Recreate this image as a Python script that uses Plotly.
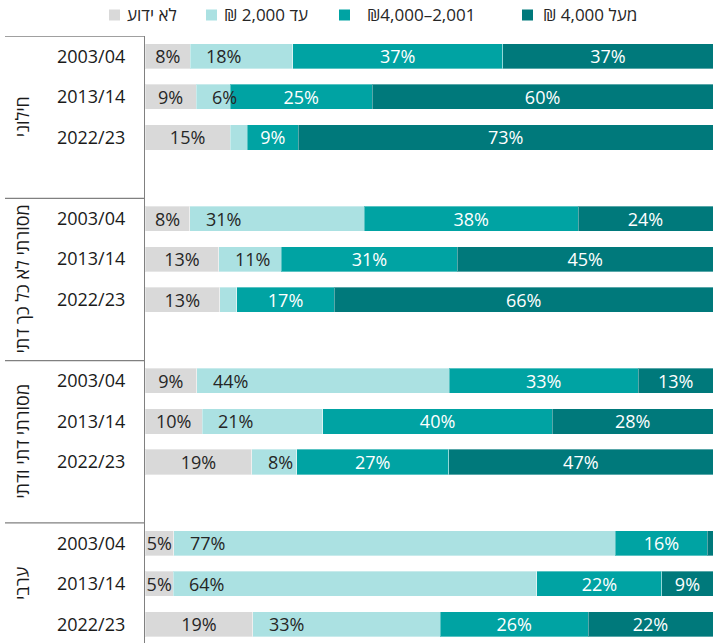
import plotly.graph_objects as go

# ---- data ----
groups = ["חילוני", "מסורתי לא כל כך דתי", "מסורתי דתי ודתי", "ערבי"]
years = ["2003/04", "2013/14", "2022/23"]
series_names = ["לא ידוע", "עד 2,000 ₪", "₪4,000–2,001", "מעל 4,000 ₪"]

unknown = [8, 9, 15, 8, 13, 13, 9, 10, 19, 5, 5, 19]
upto_2000 = [18, 6, 3, 31, 11, 3, 44, 21, 8, 77, 64, 33]
mid_2001_4000 = [37, 25, 9, 38, 31, 17, 33, 40, 27, 16, 22, 26]
over_4000 = [37, 60, 73, 24, 45, 66, 13, 28, 47, 1, 9, 22]

# ---- styles ----
colors = ["#d9d9d9", "#abe1e2", "#00a3a3", "#00797b"]
text_colors = ["#262626", "#262626", "#ffffff", "#ffffff"]
FONT = "Open Sans, Noto Sans, DejaVu Sans, sans-serif"

slots_per_group = len(years) + 1
ypos = [g * slots_per_group + i for g in range(len(groups)) for i in range(len(years))]
ymax = 14.46
ymin = -0.5

all_series = [unknown, upto_2000, mid_2001_4000, over_4000]
totals = [sum(s[j] for s in all_series) for j in range(len(ypos))]

fig = go.Figure()
for k, (name, vals) in enumerate(zip(series_names, all_series)):
    # the light series' labels are drawn as annotations (left-anchored, on top)
    texts = [f"{v}%" if (v >= 4 and k != 1) else "" for v in vals]
    fig.add_trace(go.Bar(
        y=ypos, x=vals, orientation="h", name=name,
        marker=dict(color=colors[k], line=dict(color="rgba(255,255,255,0.35)", width=1)),
        width=0.62,
        text=texts, textposition="inside", insidetextanchor="middle",
        textangle=0, constraintext="none",
        insidetextfont=dict(family=FONT, size=18, color=text_colors[k]),
        showlegend=False, hoverinfo="skip",
    ))

plot_left = 145
plot_w = 713 - plot_left
plot_top = 36
plot_h = 643 - plot_top
shapes = []
annotations = []

# labels of the "up to 2,000" series: start of the segment + fixed offset
for j, v in enumerate(upto_2000):
    if v < 4:
        continue
    seg_start = unknown[j] / totals[j] * 100
    annotations.append(dict(xref="x", yref="y", x=seg_start, y=ypos[j], xshift=14,
                            text=f"{v}%", showarrow=False, xanchor="left", yanchor="middle",
                            font=dict(family=FONT, size=18, color=text_colors[1])))

# group separators and labels
for g, gname in enumerate(groups):
    start = g * slots_per_group - 0.5
    end = start + slots_per_group
    shapes.append(dict(type="line", xref="paper", yref="y",
                       x0=-(plot_left - 5) / plot_w, x1=0, y0=start, y1=start,
                       line=dict(color="#808080", width=1.3)))
    yc = (start + min(end, ymax)) / 2
    annotations.append(dict(xref="paper", yref="y", x=0, y=yc, xshift=-123,
                            text=gname, textangle=-90, showarrow=False,
                            xanchor="center", yanchor="middle",
                            font=dict(family=FONT, size=18, color="#1a1a1a")))

# manual legend (squares + labels) in the top margin
legend_sq_x = [109, 206, 339, 522]
legend_tx_x = [125, 222, 365, 541]
ly = 1 + (plot_top - 15) / plot_h
for k, name in enumerate(series_names):
    x0 = (legend_sq_x[k] - plot_left) / plot_w
    x1 = (legend_sq_x[k] + 11 - plot_left) / plot_w
    shapes.append(dict(type="rect", xref="paper", yref="paper",
                       x0=x0, x1=x1, y0=ly - 5.5 / plot_h, y1=ly + 5.5 / plot_h,
                       fillcolor=colors[k], line=dict(width=0)))
    label = "\u202b" + name + "\u202c" if any("\u0590" <= c <= "\u05ff" for c in name) else name
    annotations.append(dict(xref="paper", yref="paper",
                            x=(legend_tx_x[k] - plot_left) / plot_w, y=ly,
                            text=label, showarrow=False, xanchor="left", yanchor="middle",
                            font=dict(family=FONT, size=17, color="#262626")))

fig.update_layout(
    width=713, height=643,
    margin=dict(l=plot_left, r=0, t=plot_top, b=0, pad=0),
    barmode="stack", barnorm="percent",
    plot_bgcolor="white", paper_bgcolor="white",
    xaxis=dict(range=[0, 100], showticklabels=False, showgrid=False, zeroline=False,
               showline=False, fixedrange=True),
    yaxis=dict(range=[ymax, ymin], tickvals=ypos, ticktext=years * len(groups),
               showgrid=False, zeroline=False, showline=True, linecolor="#808080",
               linewidth=1.3, ticks="", ticklabelstandoff=15,
               tickfont=dict(family=FONT, size=18, color="#1a1a1a")),
    shapes=shapes, annotations=annotations,
    font=dict(family=FONT),
)

fig.write_html("out.html", config={"displayModeBar": False},
               post_script="document.body.style.margin='0';document.body.style.overflow='hidden';")
